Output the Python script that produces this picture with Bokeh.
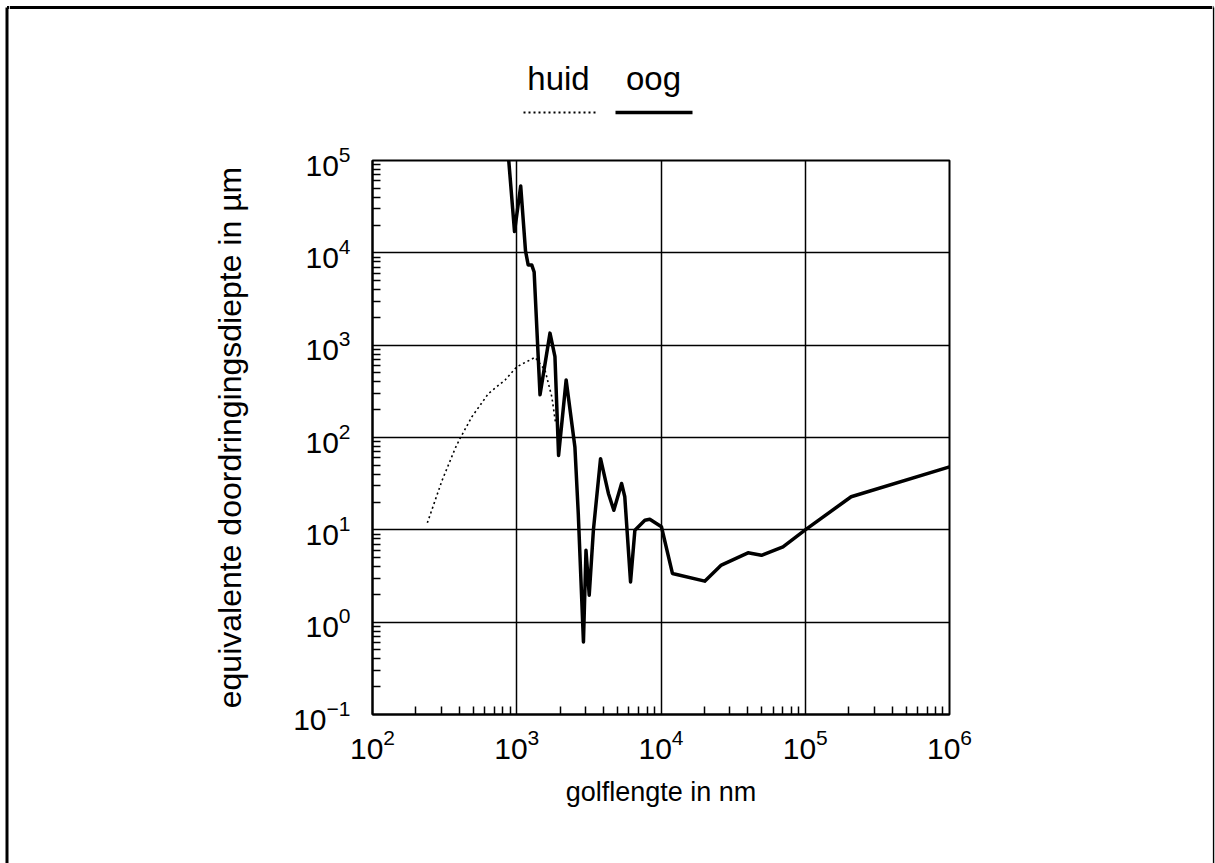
from bokeh.core.properties import value
from bokeh.embed import file_html
from bokeh.layouts import column, row
from bokeh.models import FixedTicker, Range1d
from bokeh.plotting import figure
from bokeh.resources import INLINE

# Equivalent penetration depth (µm) versus wavelength (nm)
# eye ("oog")
oog_wavelength = [880, 965, 1065, 1150, 1200, 1270, 1320, 1450, 1700, 1840,
                  1950, 2200, 2530, 2670, 2900, 3020, 3180, 3400, 3810, 4320,
                  4710, 5330, 5610, 6150, 6590, 7730, 8360, 10070, 12000,
                  20100, 26200, 40100, 49700, 70100, 100000, 208000, 1000000]
oog_depth = [1.0e5, 1.7e4, 5.3e4, 1.05e4, 7.4e3, 7.4e3, 6.2e3, 2.9e2, 1.35e3,
             7.5e2, 64, 420, 79, 15, 0.61, 6.0, 1.96, 10, 59, 24.8,
             16.3, 31.8, 22.8, 2.73, 9.9, 12.7, 13, 10.8, 3.37,
             2.78, 4.15, 5.64, 5.3, 6.55, 10, 22.8, 48]

# skin ("huid")
huid_wavelength = [240, 303, 374, 405, 489, 637, 830, 1000, 1340, 1570, 1750, 1860]
huid_depth = [11.9, 34, 76, 98, 168, 300, 419, 583, 738, 537, 276, 142]

x_tick_exponents = [2, 3, 4, 5, 6]
y_tick_exponents = [-1, 0, 1, 2, 3, 4, 5]

legend_names = ["huid", "oog"]
x_title = "golflengte in nm"
y_title = "equivalente doordringingsdiepte in µm"

FONT = "Liberation Sans"
PAGE_W, PAGE_H = 1215, 863
LEFT_STRIP, RIGHT_STRIP, TOP_H = 9, 3, 125
MID_W = PAGE_W - LEFT_STRIP - RIGHT_STRIP


def blank_panel(width, height, x0, x1, y0, y1):
    """A figure whose frame fills the whole panel, in page pixel units."""
    f = figure(width=width, height=height,
               x_range=Range1d(x0, x1), y_range=Range1d(y1, y0),
               x_axis_location=None, y_axis_location=None,
               output_backend="svg", toolbar_location=None,
               min_border=0, outline_line_color=None)
    f.background_fill_color = "white"
    f.border_fill_color = "white"
    f.grid.visible = False
    return f


# ---- main chart -------------------------------------------------------------
p = figure(width=MID_W, height=PAGE_H - TOP_H,
           x_axis_type="log", y_axis_type="log",
           x_range=(1e2, 1e6), y_range=(1e-1, 1e5),
           output_backend="svg", toolbar_location=None,
           min_border_left=372 - LEFT_STRIP, min_border_right=MID_W - (949 - LEFT_STRIP),
           min_border_top=160 - TOP_H, min_border_bottom=PAGE_H - 714)

p.background_fill_color = "white"
p.border_fill_color = "white"
p.outline_line_color = "black"
p.outline_line_width = 2

# decade ticks with 2..9 minor ticks
x_major = [10.0 ** e for e in x_tick_exponents]
y_major = [10.0 ** e for e in y_tick_exponents]
x_minor = [m * 10.0 ** e for e in x_tick_exponents[:-1] for m in range(2, 10)]
y_minor = [m * 10.0 ** e for e in y_tick_exponents[:-1] for m in range(2, 10)]
p.xaxis.ticker = FixedTicker(ticks=x_major, minor_ticks=x_minor)
p.yaxis.ticker = FixedTicker(ticks=y_major, minor_ticks=y_minor)

p.xaxis.axis_label = x_title
p.yaxis.axis_label = y_title

for ax in (p.xaxis, p.yaxis):
    ax.axis_line_color = "black"
    ax.axis_line_width = 2
    ax.major_tick_in = 0
    ax.major_tick_out = 0
    ax.minor_tick_in = 8
    ax.minor_tick_out = 0
    ax.minor_tick_line_color = "black"
    ax.minor_tick_line_width = 1.5
    ax.major_label_text_font = FONT
    ax.major_label_text_font_size = "30px"
    ax.major_label_text_color = "black"
    ax.axis_label_text_font = FONT
    ax.axis_label_text_font_style = "normal"
    ax.axis_label_text_color = "black"

p.xaxis.axis_label_text_font_size = "27px"
p.yaxis.axis_label_text_font_size = "32px"
p.xaxis.major_label_standoff = 14
p.xaxis.axis_label_standoff = 15
p.yaxis.major_label_standoff = 22
p.yaxis.axis_label_standoff = 42

p.grid.grid_line_color = "black"
p.grid.grid_line_width = 1.5
p.grid.grid_line_alpha = 1.0

p.line(huid_wavelength, huid_depth, line_color="black", line_width=1.6,
       line_dash="2 3")
p.line(oog_wavelength, oog_depth, line_color="black", line_width=3.5,
       line_join="round")

# ---- legend strip above the chart (names above their line samples) ---------
top = blank_panel(MID_W, TOP_H, LEFT_STRIP, LEFT_STRIP + MID_W, 0, TOP_H)
top.text(x=[558, 653], y=[78, 78], text=legend_names,
         text_font=value(FONT), text_font_size="33px", text_color="black",
         text_align="center", text_baseline="alphabetic")
top.line([523, 597], [112, 112], line_color="black", line_width=2, line_dash="2 3")
top.line([615, 692], [112, 112], line_color="black", line_width=3.5)
top.line([LEFT_STRIP, LEFT_STRIP + MID_W], [7, 7], line_color="black", line_width=3)

# ---- page frame at the sides --------------------------------------------------
left = blank_panel(LEFT_STRIP, PAGE_H, 0, LEFT_STRIP, 0, PAGE_H)
left.line([6.5, 6.5], [PAGE_H, 7], line_color="black", line_width=3)
left.line([6.5, LEFT_STRIP], [7, 7], line_color="black", line_width=3)

right = blank_panel(RIGHT_STRIP, PAGE_H, PAGE_W - RIGHT_STRIP, PAGE_W, 0, PAGE_H)
right.line([1213, 1213], [7, PAGE_H], line_color="black", line_width=1.5)
right.line([PAGE_W - RIGHT_STRIP, 1213], [7, 7], line_color="black", line_width=3)

# the legend strip sits in its own row so its frame keeps the full width
page = row(left, column(row(top, spacing=0), p, spacing=0), right, spacing=0)

open("out.html", "w").write(file_html(page, INLINE))
